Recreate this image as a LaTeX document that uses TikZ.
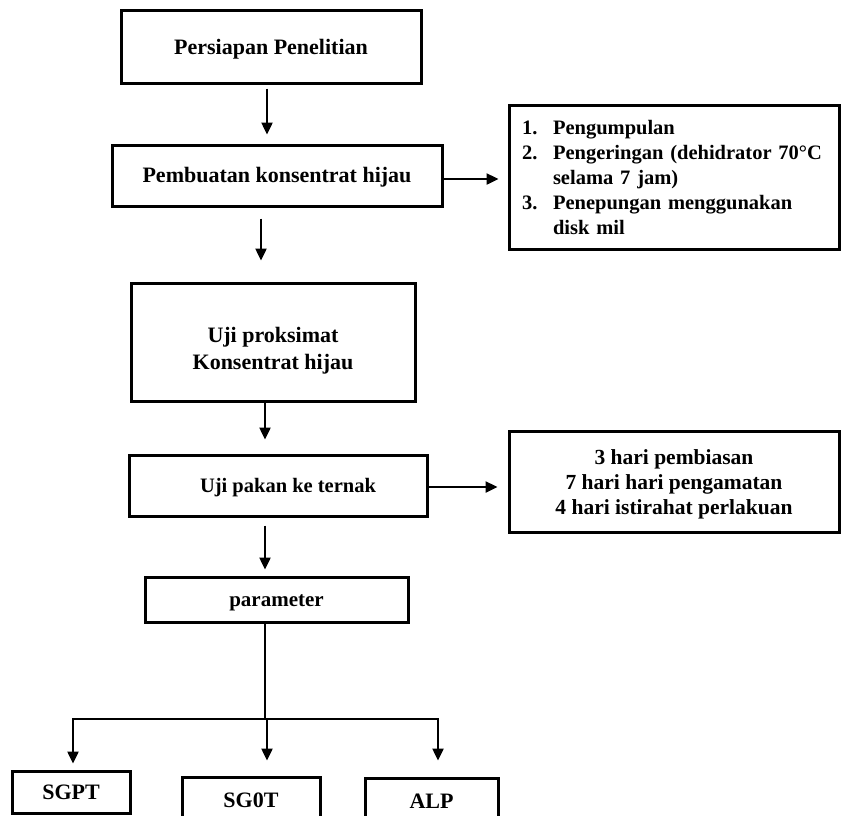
\documentclass[tikz,border=0pt]{standalone}
\usepackage{fontspec}
\setmainfont{Liberation Serif}
\usetikzlibrary{arrows.meta,calc}
\begin{document}
\begin{tikzpicture}[x=1pt,y=-1pt,
  box/.style={draw,line width=3pt,inner sep=0pt,align=center,
    font=\bfseries\fontsize{22}{27}\selectfont},
  arr/.style={line width=2.4pt,-{Triangle[length=12pt,width=11pt]}},
  ln/.style={line width=2.4pt}]
\useasboundingbox (0,0) rectangle (841,815);
\clip (0,0) rectangle (841,815);
% main column
\node[box,minimum width=300pt,minimum height=73pt] (b1) at (271,46.5) {\rule{0pt}{20pt}Persiapan Penelitian};
\node[box,minimum width=330pt,minimum height=61pt] (b2) at (277,175.5) {\rule{0pt}{18pt}Pembuatan konsentrat hijau};
\node[box,minimum width=284pt,minimum height=118pt] (b3) at (273,342) {\rule{0pt}{33pt}Uji proksimat\\Konsentrat hijau};
\node[box,minimum width=298pt,minimum height=61pt,font=\bfseries\fontsize{20.5}{24}\selectfont] (b4) at (278,485.5) {\hspace*{20pt}\rule{0pt}{18pt}Uji pakan ke ternak};
\node[box,minimum width=263pt,minimum height=45pt,font=\bfseries\fontsize{21}{25}\selectfont] (p) at (276.5,599.5) {\rule{0pt}{18pt}parameter};
% side boxes
\node[box,minimum width=330pt,minimum height=144pt,text width=304pt,align=left,
  font=\bfseries\fontsize{20.5}{25}\selectfont] (L) at (674,177)
  {\makebox[31pt][l]{1.}Pengumpulan\\
   \makebox[31pt][l]{2.}Pengeringan (dehidrator 70°C\\
   \makebox[31pt][l]{}selama 7 jam)\\
   \makebox[31pt][l]{3.}Penepungan menggunakan\\
   \makebox[31pt][l]{}disk mil};
\node[box,minimum width=330pt,minimum height=101pt,font=\bfseries\fontsize{21.5}{25}\selectfont] (R) at (674,481.5)
  {\rule{0pt}{20pt}3 hari pembiasan\\7 hari hari pengamatan\\4 hari istirahat perlakuan};
% bottom boxes
\node[box,minimum width=118pt,minimum height=42pt] (s1) at (71,792) {SGPT};
\node[box,minimum width=138pt,minimum height=46pt] (s2) at (251,800) {SG0T};
\node[box,minimum width=133pt,minimum height=46pt] (s3) at (431.5,801) {ALP};
% helper coordinates
\coordinate (x1) at (267,0);
\coordinate (x2) at (261,0);
\coordinate (x3) at (265,0);
\coordinate (ya) at (0,179);
\coordinate (yb) at (0,487);
\coordinate (j) at (265,719);
\coordinate (c1) at (73,719);
\coordinate (c2) at (267,719);
\coordinate (c3) at (438,719);
% vertical arrows
\draw[arr,shorten <=4pt,shorten >=9pt] (b1.south -| x1) -- (b2.north -| x1);
\draw[arr,shorten <=11pt,shorten >=21pt] (b2.south -| x2) -- (b3.north -| x2);
\draw[arr,shorten >=14pt] (b3.south -| x3) -- (b4.north -| x3);
\draw[arr,shorten <=8pt,shorten >=6pt] (b4.south -| x3) -- (p.north -| x3);
% side arrows
\draw[arr,shorten >=9pt] (b2.east |- ya) -- (L.west |- ya);
\draw[arr,shorten >=10pt] (b4.east |- yb) -- (R.west |- yb);
% branching
\draw[ln] (p.south -| j) -- (j);
\draw[arr,shorten >=6pt] (j) -- (c1) -- (s1.north -| c1);
\draw[arr,shorten >=16pt] (j) -- (c3) -- (s3.north -| c3);
\draw[arr,shorten >=15pt] (c2) -- (s2.north -| c2);
\end{tikzpicture}
\end{document}
